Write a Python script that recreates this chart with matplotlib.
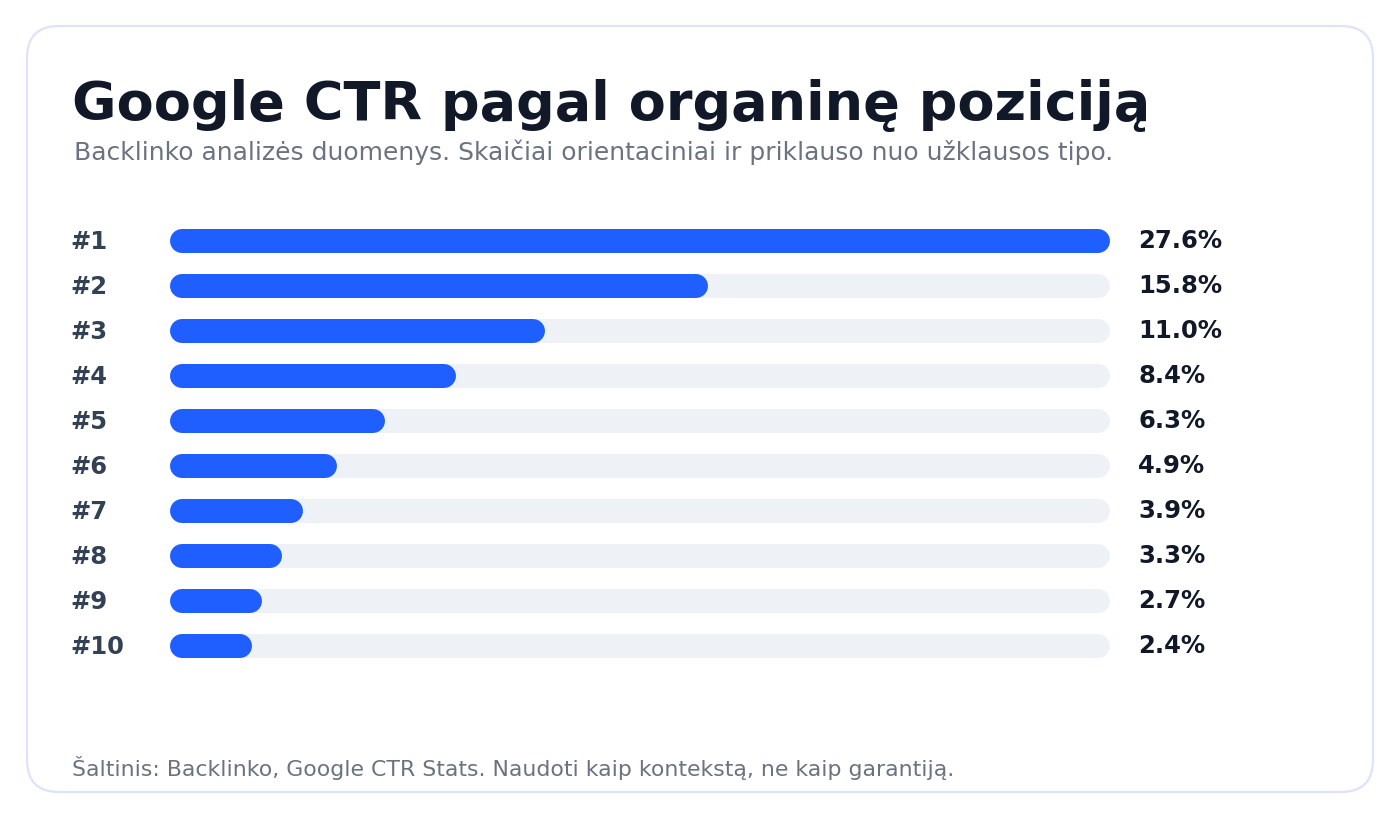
import matplotlib
matplotlib.use("Agg")
import matplotlib.pyplot as plt
from matplotlib.patches import FancyBboxPatch
from matplotlib.transforms import blended_transform_factory

positions = ["#1", "#2", "#3", "#4", "#5", "#6", "#7", "#8", "#9", "#10"]
ctr = [27.6, 15.8, 11.0, 8.4, 6.3, 4.9, 3.9, 3.3, 2.7, 2.4]
value_labels = ["27.6%", "15.8%", "11.0%", "8.4%", "6.3%", "4.9%", "3.9%", "3.3%", "2.7%", "2.4%"]

title = "Google CTR pagal organinę poziciją"
subtitle = "Backlinko analizės duomenys. Skaičiai orientaciniai ir priklauso nuo užklausos tipo."
footer = "Šaltinis: Backlinko, Google CTR Stats. Naudoti kaip kontekstą, ne kaip garantiją."

W, H = 1400, 820
fig = plt.figure(figsize=(W / 100, H / 100), dpi=100)
fig.patch.set_facecolor("white")

# card background
bg = fig.add_axes([0, 0, 1, 1])
bg.set_xlim(0, W)
bg.set_ylim(H, 0)
bg.axis("off")
bg.add_patch(FancyBboxPatch((27, 27), 1346, 766, boxstyle="round,pad=0,rounding_size=32",
                            facecolor="white", edgecolor="#dde3fb", linewidth=1.6))

fig.text(72 / W, 1 - 120 / H, title, fontsize=39, fontweight="bold", color="#111827", va="baseline")
fig.text(74 / W, 1 - 160 / H, subtitle, fontsize=18, color="#6b7280", va="baseline")
fig.text(72 / W, 1 - 776 / H, footer, fontsize=15.8, color="#6b7280", va="baseline")

# bar area
x0, x1 = 170, 1110
row_h = 45
top = 242 - row_h / 2
n = len(ctr)
ax = fig.add_axes([x0 / W, 1 - (top + n * row_h) / H, (x1 - x0) / W, n * row_h / H])
xmax = max(ctr)
ax.set_xlim(0, xmax)
ax.set_ylim(n - 0.5, -0.5)
ax.axis("off")

bar_px = 24
lw = bar_px * 72 / 100
r = (bar_px / 2) / (x1 - x0) * xmax

for i, v in enumerate(ctr):
    ax.plot([r, xmax - r], [i, i], color="#eef1f6", lw=lw, solid_capstyle="round")
    ax.plot([r, v - r], [i, i], color="#1f5eff", lw=lw, solid_capstyle="round")

tr = blended_transform_factory(fig.transFigure, ax.transData)
for i, (p, lab) in enumerate(zip(positions, value_labels)):
    ax.text(70 / W, i, p, transform=tr, fontsize=17.5, fontweight="bold", color="#334155", va="center")
    ax.text(1138 / W, i - 0.03, lab, transform=tr, fontsize=17.5, fontweight="bold", color="#111827", va="center")

fig.savefig("out.png", dpi=100, facecolor="white")
